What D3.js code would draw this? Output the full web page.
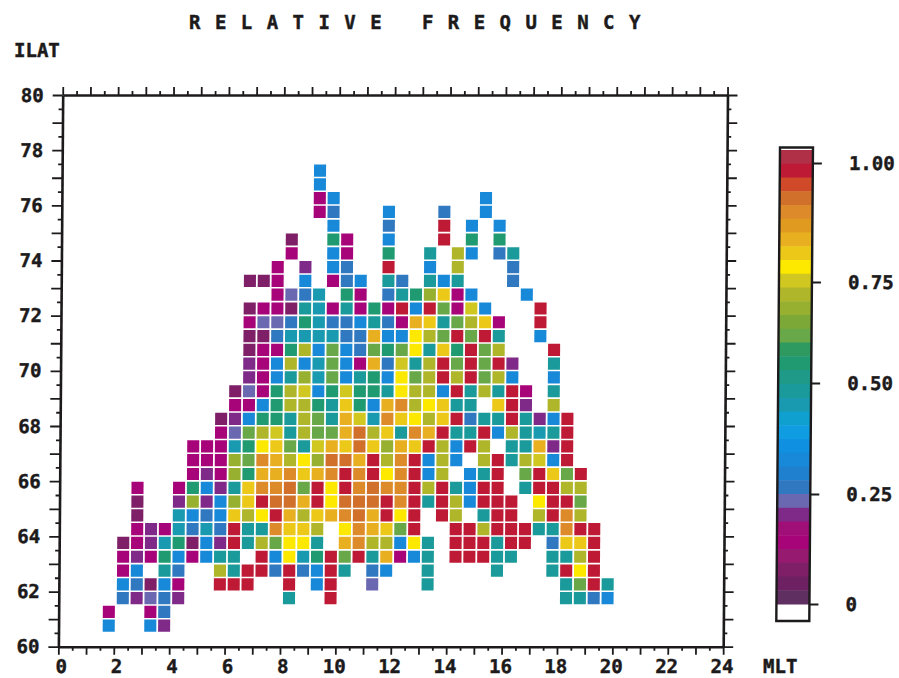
<!DOCTYPE html>
<html><head><meta charset="utf-8">
<script src="https://cdn.jsdelivr.net/npm/d3@7"></script>
<style>
html,body{margin:0;padding:0;background:#fff}
text{font-family:"DejaVu Sans Mono",monospace;font-weight:700;fill:#1c1a1a;font-size:19px;stroke:#1c1a1a;stroke-width:0.45px}
</style></head><body>
<svg id="c" width="899" height="678"></svg>
<script>
const _ = null;
const xTickLabels = d3.range(0, 25, 2);
const yTickLabels = d3.range(60, 81, 2);
const legendTicks = [0, 0.25, 0.5, 0.75, 1];
const legendLabels = ["0", "0.25", "0.50", "0.75", "1.00"];
const legendPositions = [604, 494, 383, 282, 163];
const bandColors = ["#5f2f62","#6e2162","#7e1f68","#961a70","#a8047a","#a00f78","#7f2a88","#6a68b0","#3078c0","#2080d0","#1888d8","#1090e0","#109ce0","#10a0d0","#1a9ab0","#1a9a9a","#1f9a88","#209a70","#2f9a60","#68a848","#7ca838","#98b030","#b0b62a","#d0c820","#fde800","#ecc818","#e8b020","#e09a20","#dd8a2a","#d0702a","#d04a2a","#bf1a35","#b03048"];
// lower ILAT edge of each row, MLT of each row's first cell, relative frequency (percent) along the row in 0.5 h steps
const rowILAT = d3.range(60.5, 77.5, 0.5);
const rowStartMLT = [1.5,1.5,2,2,2,2,2,2.5,2.5,2.5,2.5,4.5,4.5,4.5,5.5,5.5,6,6,6.5,6.5,6.5,6.5,6.5,6.5,7.5,6.5,7.5,8,8,9.5,9,9,9,9];
const frequency = [
[34,_,_,34,20],
[13,_,_,13,28],
[28,20,24,28,20,_,_,_,_,_,_,_,47,_,_,98,_,_,_,_,_,_,_,_,_,_,_,_,_,_,_,_,47,47,28,34],
[34,28,8,34,13,_,_,98,98,98,_,_,98,_,34,98,_,_,24,_,_,_,47,_,_,_,_,_,_,_,_,_,47,62,98,47],
[13,34,_,47,28,_,_,72,47,98,98,28,98,28,34,98,47,_,28,34,_,_,47,_,_,_,_,47,_,_,_,47,98,78,98],
[13,20,13,56,34,13,34,47,47,_,98,34,78,44,56,98,62,98,47,85,13,34,47,_,98,98,98,47,47,_,_,47,47,72,98],
[8,13,20,44,56,8,34,20,98,47,72,62,78,78,47,_,85,90,72,72,34,78,47,_,98,98,98,47,98,98,_,28,82,82,98],
[13,20,13,44,28,44,28,98,47,47,90,82,82,72,_,78,90,85,82,62,98,_,_,98,98,72,98,98,98,47,47,90,98,98],
[8,_,_,44,34,28,34,82,72,78,98,85,72,82,85,90,94,85,98,78,98,_,98,72,_,47,98,98,_,72,98,90,72],
[8,_,_,20,67,20,34,67,82,98,94,94,85,98,78,94,94,94,98,90,98,47,98,72,34,98,98,98,_,78,98,98,62],
[13,_,_,13,56,34,20,47,82,90,90,94,62,98,78,98,90,94,90,90,98,72,98,47,34,98,98,_,47,98,98,72,72],
[13,20,13,67,56,85,85,90,82,85,90,98,90,98,78,90,98,34,72,_,34,47,98,_,62,98,82,62,98],
[13,13,13,67,62,90,85,72,78,67,94,94,85,98,72,90,98,34,72,34,_,72,98,47,72,74,34,98],
[13,13,13,44,56,78,82,62,47,74,85,82,94,82,67,85,82,98,72,34,98,72,_,47,47,85,20,98],
[13,24,62,72,74,47,72,62,62,85,94,72,82,47,90,85,98,47,47,98,34,72,47,44,47,98],
[8,20,34,56,56,47,72,62,47,85,74,44,90,82,78,72,82,98,28,47,47,98,47,20,34,98],
[13,13,34,56,72,72,56,47,82,56,34,85,90,72,78,82,47,47,_,82,98,20,_,72],
[8,24,13,56,72,74,34,56,74,56,56,47,78,72,72,34,98,47,72,47,98,13,_,47],
[20,13,34,47,67,44,62,34,47,56,34,78,62,72,98,72,98,62,72,34,_,_,34],
[20,13,34,72,34,44,62,34,13,85,28,74,47,72,98,62,98,62,98,20,_,_,47],
[8,13,13,56,72,34,62,34,28,62,56,62,78,47,82,56,98,62,72,_,_,_,98],
[8,8,28,44,44,44,44,28,28,85,34,34,78,72,62,98,62,98,47,_,_,34],
[13,24,24,28,56,44,28,28,34,47,28,13,85,82,47,62,72,82,13,_,_,98],
[8,13,13,8,47,44,13,47,13,56,13,98,34,98,62,13,74,34,_,_,_,98],
[13,24,28,44,_,56,13,_,28,47,56,67,82,13,34,_,_,_,34],
[8,8,13,_,34,_,13,28,34,_,47,28,_,47,34,47,_,_,_,28],
[13,_,20,_,34,28,_,_,98,_,_,34,_,72,_,_,_,28],
[13,_,_,34,13,_,_,56,_,_,47,_,72,34,_,28,47],
[8,_,_,56,13,_,_,34,_,_,_,98,_,56,_,56],
[34,_,_,_,28,_,_,_,98,_,34,_,34],
[13,28,_,_,_,34,_,_,_,28,_,_,34],
[13,34,_,_,_,_,_,_,_,_,_,_,34],
[34],
[34]
];

const svg = d3.select("#c");
const shear = Math.atan(0.0078) * 180 / Math.PI;
const root = svg.append("g").attr("transform", `translate(0.74,0) skewX(${-shear})`);

const x = d3.scaleLinear().domain([0, 24]).range([62.7, 727.5]);
const y = d3.scaleLinear().domain([60, 80]).range([646.7, 95]);
const legendY = d3.scaleLinear().domain(legendTicks).range(legendPositions);
const band = d3.scaleQuantize().domain([150, 604]).range(bandColors.slice().reverse());
const colour = v => band(legendY(v));

const cells = [];
frequency.forEach((row, i) => row.forEach((v, j) => {
  if (v !== null) cells.push({ mlt: rowStartMLT[i] + j * 0.5, ilat: rowILAT[i], v: v / 100 });
}));
root.append("g").selectAll("rect").data(cells).join("rect")
  .attr("x", d => x(d.mlt) + 2.6)
  .attr("y", d => y(d.ilat + 0.5) + 0.5)
  .attr("width", d => x(d.mlt + 0.5) - x(d.mlt) - 1.8)
  .attr("height", d => y(d.ilat) - y(d.ilat + 0.5) - 1.6)
  .attr("fill", d => colour(d.v));

function style(g) {
  g.selectAll("path.domain").attr("stroke", "#1c1a1a").attr("stroke-width", 2.6);
  g.selectAll(".tick line").attr("stroke", "#1c1a1a").attr("stroke-width", 1.8);
  g.attr("font-family", null).attr("font-size", null);
}
const minor = d3.range(0, 24.5, 0.5), minorY = d3.range(60, 80.5, 0.5);
const isWhole = d => Math.abs(d - Math.round(d)) < 1e-6;

const gb = root.append("g").attr("transform", `translate(0,${y(60)})`)
  .call(d3.axisBottom(x).tickValues(minor).tickSizeOuter(0).tickSizeInner(8).tickPadding(4.5)
    .tickFormat(d => xTickLabels.includes(d) ? d : ""));
gb.selectAll(".tick line").attr("y2", d => isWhole(d) ? 8 : 4);
gb.selectAll(".tick text").attr("dx", d => d >= 10 ? -1.5 : 2.5);
const gt = root.append("g").attr("transform", `translate(0,${y(80)})`)
  .call(d3.axisTop(x).tickValues(minor).tickSizeOuter(0).tickSizeInner(8).tickFormat(""));
gt.selectAll(".tick line").attr("y2", d => isWhole(d) ? -8 : -4);
const gl = root.append("g").attr("transform", `translate(${x(0)},0)`)
  .call(d3.axisLeft(y).tickValues(minorY).tickSizeOuter(0).tickSizeInner(10).tickPadding(9)
    .tickFormat(d => yTickLabels.includes(d) ? d : ""));
gl.selectAll(".tick line").attr("x2", d => isWhole(d) ? -10 : -4);
const gr = root.append("g").attr("transform", `translate(${x(24)},0)`)
  .call(d3.axisRight(y).tickValues(minorY).tickSizeOuter(0).tickSizeInner(10).tickFormat(""));
gr.selectAll(".tick line").attr("x2", d => isWhole(d) ? 10 : 4);
[gb, gt, gl, gr].forEach(style);

// colour bar
const barX = 780.4, barW = 33;
const lg = root.append("g");
lg.selectAll("rect.b").data(band.range()).join("rect").attr("class", "b")
  .attr("x", barX).attr("width", barW)
  .attr("y", c => band.invertExtent(c)[0])
  .attr("height", c => band.invertExtent(c)[1] - band.invertExtent(c)[0] + 0.5)
  .attr("fill", c => c);
lg.append("rect").attr("x", barX).attr("y", 147.5).attr("width", barW).attr("height", 473.5)
  .attr("fill", "none").attr("stroke", "#1c1a1a").attr("stroke-width", 2.4);
const la = lg.append("g").attr("transform", `translate(${barX + barW},0)`)
  .call(d3.axisRight(legendY).tickValues(legendTicks).tickSizeOuter(0).tickSizeInner(9).tickPadding(0).tickFormat(""));
la.select("path.domain").remove();
style(la);
lg.selectAll("text.l").data(legendTicks).join("text").attr("class", "l")
  .attr("x", 849.5).attr("y", d => legendY(d)).attr("dy", "0.36em")
  .text((d, i) => legendLabels[i]);

// titles
svg.append("text").attr("x", 189).attr("y", 29).style("letter-spacing", "1.5px").style("white-space", "pre")
  .text("R E L A T I V E   F R E Q U E N C Y");
svg.append("text").attr("x", 14).attr("y", 57).text("ILAT");
svg.append("text").attr("x", 763).attr("y", 672.5).text("MLT");
</script></body></html>
